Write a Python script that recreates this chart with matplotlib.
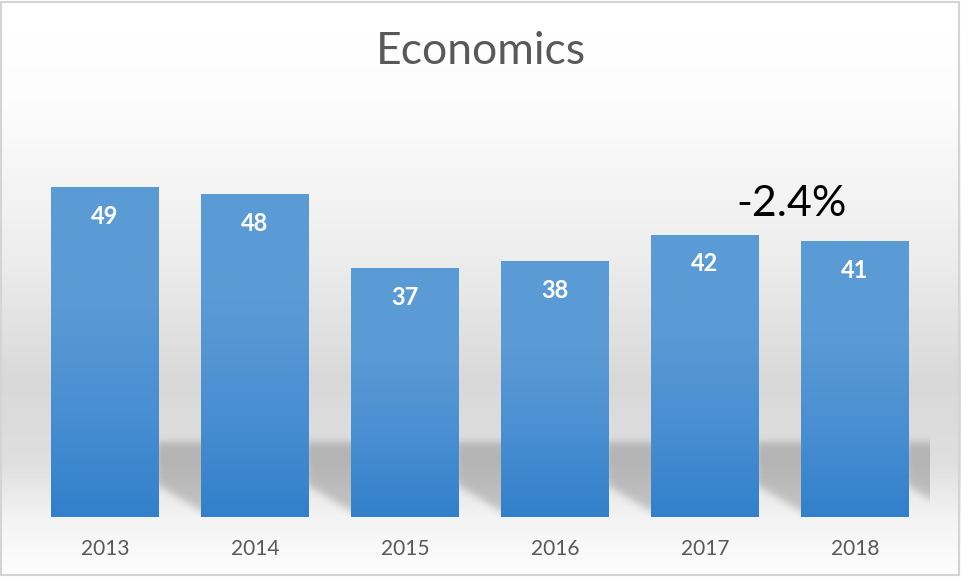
import numpy as np
import matplotlib
matplotlib.use("Agg")
import matplotlib.pyplot as plt
from matplotlib.colors import LinearSegmentedColormap
from matplotlib.patches import Rectangle

# data
years = ["2013", "2014", "2015", "2016", "2017", "2018"]
values = [49, 48, 37, 38, 42, 41]
change_text = "-2.4%"

plt.rcParams['font.family'] = ['Lato', 'DejaVu Sans']

fig = plt.figure(figsize=(9.61, 5.77), dpi=100)

# background gradient over the whole figure
bg = fig.add_axes([0, 0, 1, 1], zorder=-5)
bg.set_axis_off()
stops_y = [0.0, 0.17, 0.45, 0.66, 0.80, 0.90, 1.0]
stops_v = [255, 252, 236, 216, 222, 243, 253]
yy = np.linspace(0, 1, 577)
col = np.interp(yy, stops_y, stops_v) / 255.0
bg.imshow(np.repeat(col[:, None], 2, axis=1), cmap="gray", vmin=0, vmax=1,
          aspect="auto", extent=[0, 1, 1, 0])
bg.set_xlim(0, 1)
bg.set_ylim(1, 0)
bg.add_patch(Rectangle((0.001, 0.003), 0.997, 0.994, fill=False,
                       edgecolor="#d4d4d4", lw=1.5, transform=bg.transAxes))

ax = fig.add_axes([30 / 961, 60 / 577, 900 / 961, 417 / 577])
ax.patch.set_alpha(0)
x = np.arange(len(years))
width = 0.715
ymax = 62.0

# soft shadow in the gaps behind the bars
H = 14.0
nx, ny = 900, 94
gx = np.linspace(-0.5, len(years) - 0.5, nx)
gy = np.linspace(0, H, ny)
GX, GY = np.meshgrid(gx, gy)
mask = np.zeros_like(GX)
for i in x:
    r = i + width / 2
    dx = GX - r
    inside = (dx >= -0.01) & (dx <= 0.33) & (GY <= 11.0) & (GY >= 4.6 - 13.5 * dx)
    mask[inside] = 1.0


def blur(a, sigma, axis):
    k_r = int(3 * sigma)
    k = np.exp(-0.5 * (np.arange(-k_r, k_r + 1) / sigma) ** 2)
    k /= k.sum()
    pad = [(0, 0), (0, 0)]
    pad[axis] = (k_r, k_r)
    ap = np.pad(a, pad, mode="edge")
    return np.apply_along_axis(lambda v: np.convolve(v, k, mode="valid"), axis, ap)


mask = blur(mask, 3, 1)
mask = blur(mask, 4, 0)
shadow = np.zeros((ny, nx, 4))
shadow[..., 3] = 0.19 * mask
ax.imshow(shadow, extent=[-0.5, len(years) - 0.5, 0, H], origin="lower",
          aspect="auto", zorder=1, interpolation="bilinear")

# bars with vertical gradient
bars = ax.bar(x, values, width=width, color="none", edgecolor="none", zorder=2)
cmap = LinearSegmentedColormap.from_list("bar", ["#3280CB", "#4a8fd2", "#5B9BD5", "#5B9BD5"])
grad = np.linspace(0, 1, 256)[:, None]
for b in bars:
    im = ax.imshow(grad, cmap=cmap, aspect="auto", origin="lower",
                   extent=[b.get_x(), b.get_x() + b.get_width(), 0, b.get_height()],
                   zorder=2)
    im.set_clip_path(b)

for xi, v in zip(x, values):
    ax.text(xi, v - 4.3, str(v), ha="center", va="center", color="white",
            fontsize=17, fontweight="bold", zorder=3)

ax.text(4.58, 46.6, change_text, ha="center", va="center", color="black",
        fontsize=31, zorder=3)

ax.set_xlim(-0.5, len(years) - 0.5)
ax.set_ylim(0, ymax)
ax.set_xticks(x)
ax.set_xticklabels(years, color="#595959", fontsize=15)
ax.tick_params(axis="x", length=0, pad=16)
ax.set_yticks([])
for s in ax.spines.values():
    s.set_visible(False)

fig.text(0.5, 1 - 52 / 577, "Economics", ha="center", va="center",
         color="#595959", fontsize=32)

fig.savefig("out.png", dpi=100)
